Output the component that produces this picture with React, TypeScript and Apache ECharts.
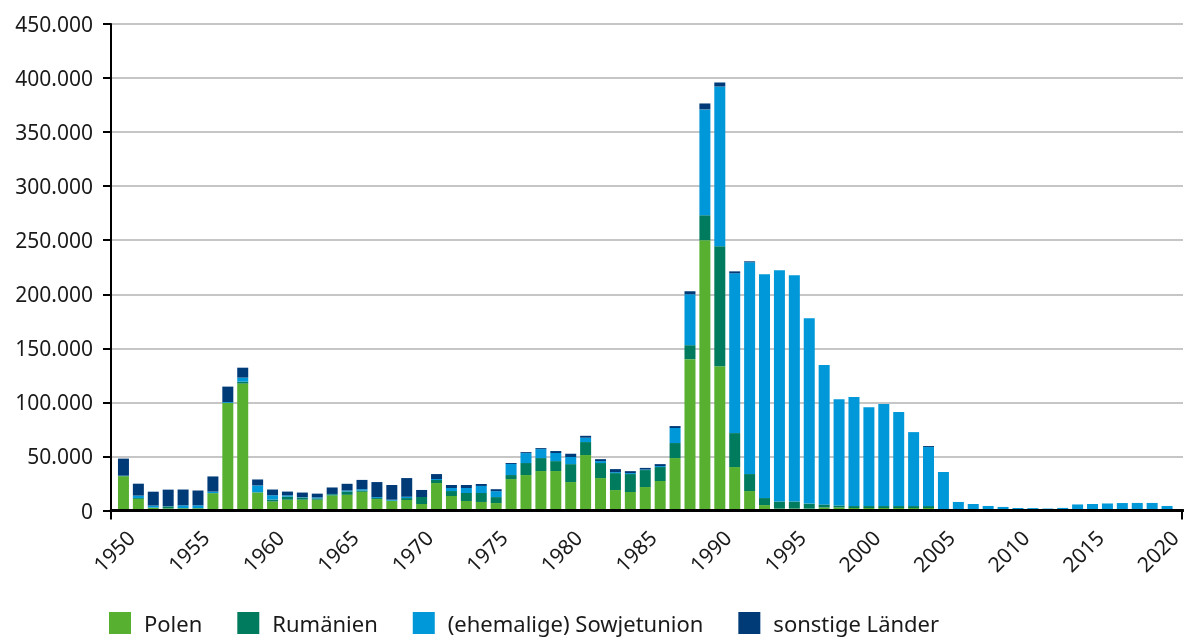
import React, { useEffect, useRef } from "react";
import * as echarts from "echarts";

const years: string[] = [];
for (let y = 1950; y <= 2020; y++) years.push(String(y));

// values in persons
const polen = [
  31800, 10800, 2500, 2000, 2000, 2000, 16000, 99500, 117400, 16600,
  8300, 10000, 10000, 10000, 13900, 14500, 17300, 10600, 8800, 9700,
  6000, 25400, 13400, 8800, 7900, 6900, 29100, 32800, 36500, 36500,
  26300, 51300, 30000, 18900, 17100, 21700, 27300, 48500, 140000, 250000,
  133500, 40200, 18000, 5000, 1800, 1800, 1800, 2800, 2800, 2300,
  2300, 2300, 2300, 2300, 2300, 100, 0, 0, 0, 0,
  0, 0, 0, 0, 0, 0, 0, 0, 0, 0, 0,
];
const rumaenien = [
  0, 800, 300, 1800, 300, 300, 200, 0, 1800, 300,
  1800, 2800, 2000, 1200, 1200, 3100, 1200, 900, 300, 1800,
  6500, 2800, 4600, 7400, 8300, 5500, 3700, 11100, 12000, 9200,
  16600, 12000, 13900, 15700, 16600, 15700, 12900, 13900, 12900, 23100,
  110900, 31400, 15700, 6500, 6500, 6500, 4600, 2800, 1800, 1800,
  1800, 1800, 1800, 1800, 1800, 100, 0, 0, 0, 0,
  0, 0, 0, 0, 0, 0, 0, 0, 0, 0, 0,
];
const sowjetunion = [
  400, 2200, 1800, 200, 2500, 2500, 1300, 800, 3700, 6300,
  4000, 1200, 300, 900, 200, 900, 1200, 900, 900, 1200,
  0, 900, 2800, 4600, 6500, 5500, 10200, 9200, 8300, 7500,
  6600, 4000, 1800, 900, 900, 500, 900, 13900, 47100, 97900,
  147800, 147800, 195900, 207000, 213900, 209300, 171500, 128900, 98400, 100800,
  91500, 94300, 86900, 68400, 54600, 35400, 7900, 6000, 4200, 3300,
  2300, 2200, 1800, 2400, 5600, 6000, 6500, 6900, 7000, 7000, 4200,
];
const sonstige = [
  15800, 11000, 12800, 15300, 14600, 13700, 14000, 14300, 9200, 5500,
  5300, 3500, 4300, 3500, 6000, 6200, 8600, 13900, 13600, 17300,
  6500, 4600, 2800, 2800, 1800, 1800, 900, 900, 900, 1800,
  3000, 1800, 1800, 2800, 1800, 1500, 1800, 1800, 2800, 5500,
  3700, 1800, 900, 0, 0, 0, 0, 0, 0, 0,
  0, 0, 0, 0, 900, 0, 0, 0, 0, 0,
  0, 0, 0, 0, 0, 0, 0, 0, 0, 0, 0,
];

const seriesNames = ["Polen", "Rumänien", "(ehemalige) Sowjetunion", "sonstige Länder"];
const seriesColors = ["#58b031", "#007b5e", "#0098d8", "#003b78"];
const yTicks = { min: 0, max: 450000, interval: 50000 };

const FONT = "'Noto Sans', 'Open Sans', sans-serif";
const TEXT = "#1a1a1a";

const fmt = (v: number) => String(v).replace(/\B(?=(\d{3})+(?!\d))/g, ".");

export default function App() {
  const ref = useRef<HTMLDivElement>(null);
  useEffect(() => {
    if (!ref.current) return;
    const chart = echarts.init(ref.current, undefined, { renderer: "svg" });
    const W = 1184;
    const H = 637;
    const top = 24;
    const bottom = 126.5;
    const axisGrid = { left: 111, right: 1 };
    const barGrid = { left: 116, right: 5 };
    const baseY = H - bottom;
    const axisX1 = W - axisGrid.right - 1;
    const dataSets = [polen, rumaenien, sowjetunion, sonstige];
    chart.setOption({
      animation: false,
      textStyle: { fontFamily: FONT, color: TEXT },
      grid: [
        { left: axisGrid.left, right: axisGrid.right, top, bottom, containLabel: false },
        { left: barGrid.left, right: barGrid.right, top, bottom, containLabel: false },
      ],
      legend: {
        left: 109,
        top: 612,
        padding: 0,
        itemWidth: 22,
        itemHeight: 22,
        itemGap: 35,
        icon: "rect",
        textStyle: { fontFamily: FONT, fontSize: 22, lineHeight: 22, color: TEXT, padding: [0, 0, 0, 8] },
        data: seriesNames,
      },
      xAxis: [
        {
          gridIndex: 0,
          type: "category",
          data: years,
          z: 5,
          axisLine: { show: true, lineStyle: { color: "#000", width: 3 } },
          axisTick: { show: false },
          axisLabel: { show: false },
          splitLine: { show: false },
        },
        {
          gridIndex: 1,
          type: "category",
          data: years,
          axisLine: { show: false },
          axisTick: { show: false },
          splitLine: { show: false },
          axisLabel: {
            interval: 4,
            rotate: 45,
            margin: 16,
            verticalAlign: "top",
            fontFamily: FONT,
            fontSize: 21,
            color: TEXT,
          },
        },
      ],
      yAxis: [
        {
          gridIndex: 0,
          type: "value",
          min: yTicks.min,
          max: yTicks.max,
          interval: yTicks.interval,
          axisLine: { show: true, lineStyle: { color: "#000", width: 2 } },
          axisTick: { show: true, length: 8, lineStyle: { color: "#000", width: 2 } },
          axisLabel: {
            margin: 18,
            fontFamily: FONT,
            fontSize: 21,
            color: TEXT,
            formatter: (v: number) => fmt(v),
          },
          splitLine: { show: true, lineStyle: { color: "#b3b3b3", width: 1.5 } },
        },
        {
          gridIndex: 1,
          type: "value",
          min: yTicks.min,
          max: yTicks.max,
          interval: yTicks.interval,
          show: false,
          splitLine: { show: false },
        },
      ],
      graphic: [
        { type: "line", z: 10, shape: { x1: axisGrid.left, y1: baseY, x2: axisGrid.left, y2: baseY + 9 }, style: { stroke: "#000", lineWidth: 2 } },
        { type: "line", z: 10, shape: { x1: axisX1, y1: baseY, x2: axisX1, y2: baseY + 9 }, style: { stroke: "#000", lineWidth: 2 } },
      ],
      series: seriesNames.map((name, i) => ({
        name,
        type: "bar",
        stack: "total",
        xAxisIndex: 1,
        yAxisIndex: 1,
        barWidth: 11,
        z: 3,
        itemStyle: { color: seriesColors[i] },
        data: dataSets[i],
      })),
    });
    return () => chart.dispose();
  }, []);
  return (
    <div
      ref={ref}
      style={{ position: "fixed", left: 0, top: 0, width: 1184, height: 637 }}
    />
  );
}
